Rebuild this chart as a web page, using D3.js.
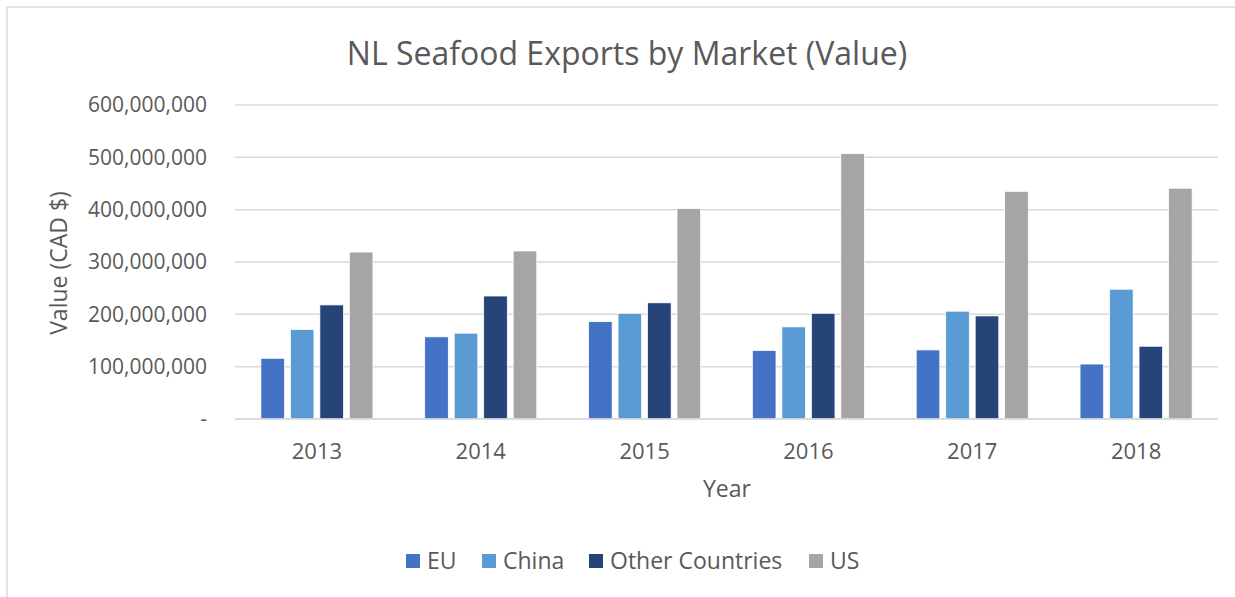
<!DOCTYPE html>
<html>
<head>
<meta charset="utf-8">
<script src="https://cdn.jsdelivr.net/npm/d3@7"></script>
<style>
  body { margin: 0; background: #fff; }
  text { font-family: "Open Sans", sans-serif; fill: #595959; }
</style>
</head>
<body>
<svg id="chart" width="1235" height="597"></svg>
<script>
let years = ["2013", "2014", "2015", "2016", "2017", "2018"];
let markets = ["EU", "China", "Other Countries", "US"];
let colors = ["#4472C4", "#5B9BD5", "#264478", "#A5A5A5"];

// values, CAD $
let eu = [116e6, 157e6, 186e6, 131e6, 132e6, 105e6];
let china = [171e6, 164e6, 202e6, 176e6, 206e6, 248e6];
let other = [218e6, 235e6, 222e6, 202e6, 197e6, 139e6];
let us = [319e6, 321e6, 402e6, 507e6, 435e6, 441e6];

let yTicks = [0, 100e6, 200e6, 300e6, 400e6, 500e6, 600e6];

let series = [eu, china, other, us];
let rows = years.map((y, i) => ({
    year: y,
    values: markets.map((m, j) => ({ key: m, value: series[j][i] }))
}));

let svg = d3.select("#chart");
let plotLeft = 235, plotRight = 1218, plotTop = 105, plotBottom = 419;

// chart border (cropped at right and bottom)
svg.append("rect")
    .attr("x", 7).attr("y", 7)
    .attr("width", 1400).attr("height", 800)
    .attr("fill", "none")
    .attr("stroke", "#d9d9d9")
    .attr("stroke-width", 1.5);

let x0 = d3.scaleBand()
    .domain(years)
    .range([plotLeft, plotRight])
    .paddingInner(0.316)
    .paddingOuter(0.158);

let x1 = d3.scaleBand()
    .domain(markets)
    .range([0, x0.bandwidth()])
    .paddingInner(0.2);

let y = d3.scaleLinear()
    .domain([0, 600e6])
    .range([plotBottom, plotTop]);

let color = d3.scaleOrdinal().domain(markets).range(colors);

// gridlines
svg.append("g")
    .selectAll("line")
    .data(yTicks)
    .enter()
    .append("line")
    .attr("x1", plotLeft).attr("x2", plotRight)
    .attr("y1", d => y(d)).attr("y2", d => y(d))
    .attr("stroke", "#d9d9d9")
    .attr("stroke-width", 1.5);

// y axis labels
let fmt = d3.format(",");
let yAxis = d3.axisLeft(y)
    .tickValues(yTicks)
    .tickSize(0)
    .tickPadding(28)
    .tickFormat(d => d === 0 ? "-" : fmt(d));

svg.append("g")
    .attr("transform", `translate(${plotLeft},0)`)
    .call(yAxis)
    .call(g => g.select(".domain").remove())
    .selectAll("text")
    .style("font-size", "21px")
    .attr("fill", "#595959");

// x axis
let xAxis = d3.axisBottom(x0).tickSize(0).tickPadding(24);
svg.append("g")
    .attr("transform", `translate(0,${plotBottom})`)
    .call(xAxis)
    .call(g => g.select(".domain").remove())
    .selectAll("text")
    .style("font-size", "22px")
    .attr("fill", "#595959");

// bars
let groups = svg.append("g")
    .selectAll("g")
    .data(rows)
    .enter()
    .append("g")
    .attr("transform", d => `translate(${x0(d.year)},0)`);

groups.selectAll("rect")
    .data(d => d.values)
    .enter()
    .append("rect")
    .attr("x", d => x1(d.key))
    .attr("y", d => y(d.value))
    .attr("width", x1.bandwidth())
    .attr("height", d => y(0) - y(d.value))
    .attr("fill", d => color(d.key))
    .attr("stroke", "#fff")
    .attr("stroke-width", 0.75);

// axis line on top of bars
svg.append("line")
    .attr("x1", plotLeft).attr("x2", plotRight)
    .attr("y1", y(0)).attr("y2", y(0))
    .attr("stroke", "#d9d9d9")
    .attr("stroke-width", 1.5);

// title
svg.append("text")
    .attr("x", 627).attr("y", 65)
    .attr("text-anchor", "middle")
    .style("font-size", "32px")
    .text("NL Seafood Exports by Market (Value)");

// axis titles
svg.append("text")
    .attr("x", 727).attr("y", 497)
    .attr("text-anchor", "middle")
    .style("font-size", "23px")
    .text("Year");

svg.append("text")
    .attr("transform", "translate(67,263) rotate(-90)")
    .attr("text-anchor", "middle")
    .style("font-size", "23px")
    .text("Value (CAD $)");

// legend
let legendX = [406, 482, 589, 809];
let legend = svg.append("g")
    .selectAll("g")
    .data(markets)
    .enter()
    .append("g")
    .attr("transform", (d, i) => `translate(${legendX[i]},554)`);

legend.append("rect")
    .attr("width", 14).attr("height", 14)
    .attr("fill", d => color(d));

legend.append("text")
    .attr("x", 21).attr("y", 15)
    .style("font-size", "23px")
    .text(d => d);
</script>
</body>
</html>
